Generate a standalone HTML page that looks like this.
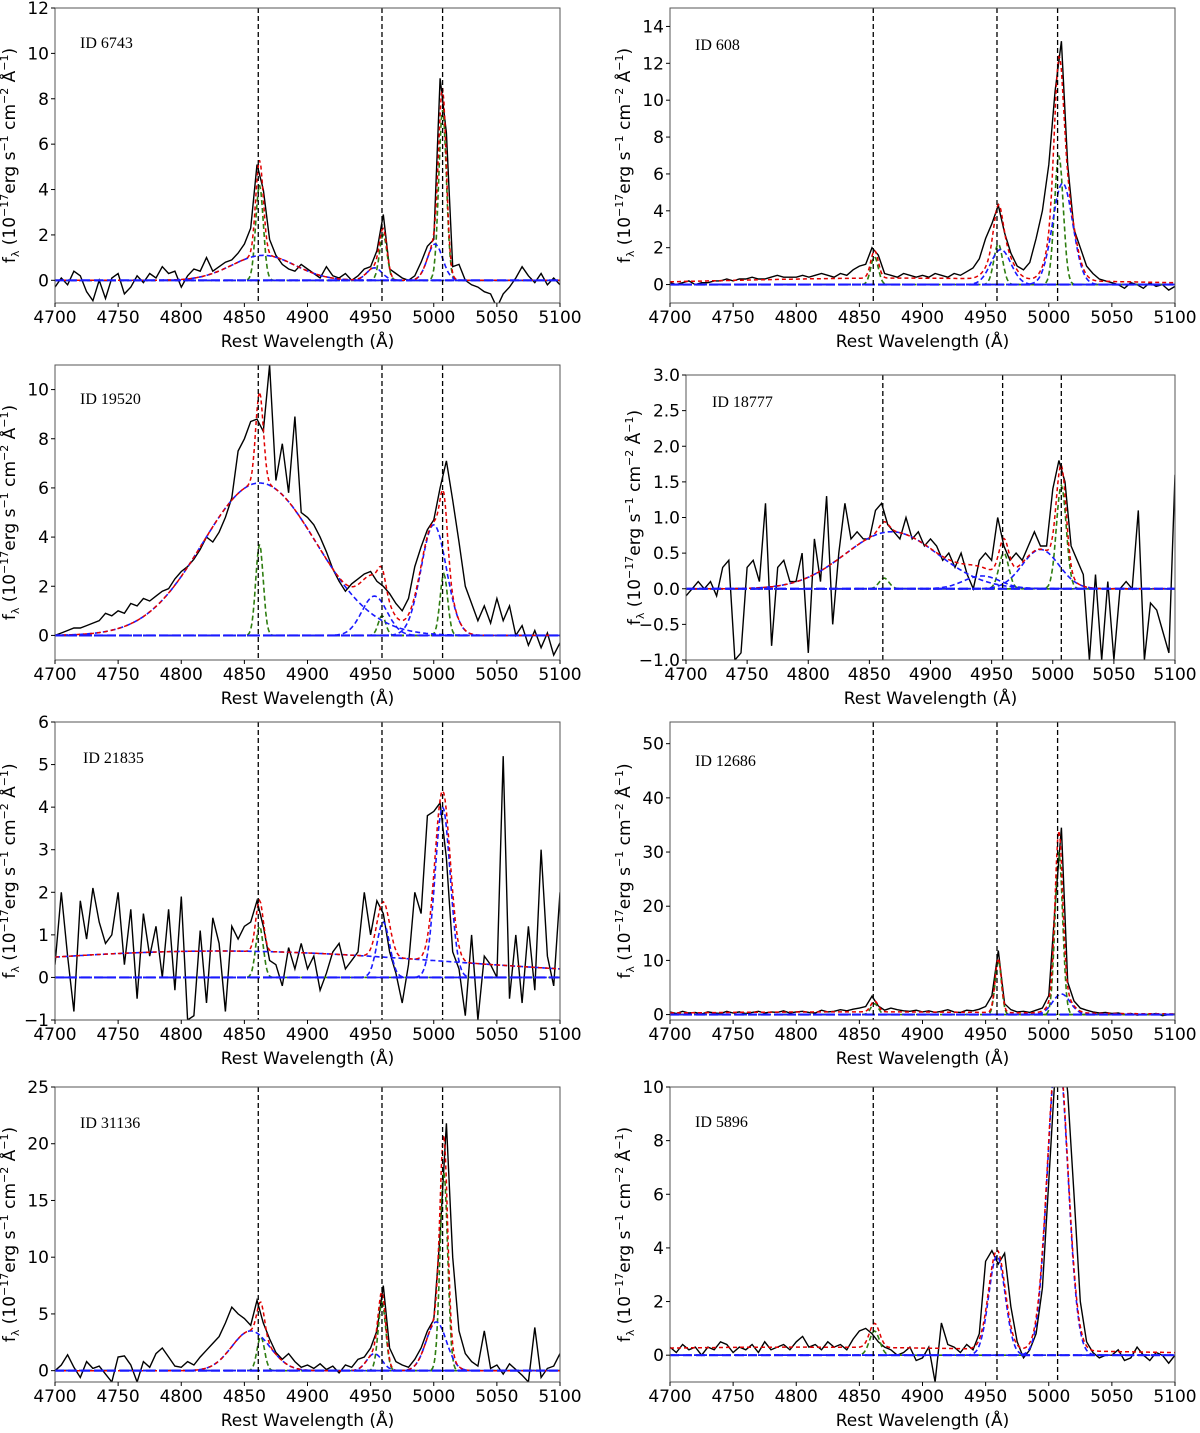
<!DOCTYPE html>
<html><head><meta charset="utf-8"><style>
html,body{margin:0;padding:0;background:#fff;}
svg{display:block;font-family:"DejaVu Sans","Liberation Sans",sans-serif;}
.tk{font-size:17px;fill:#000}
.idl{font-family:"Liberation Serif",serif;font-size:16px;fill:#000}
</style></head><body>
<svg id="fig" width="1200" height="1433" viewBox="0 0 1200 1433" xmlns="http://www.w3.org/2000/svg"></svg>
<script>
const wl0 = 4700, wlStep = 5;
const lineCenters = [4861, 4959, 5007];
const ids = ["ID 6743","ID 608","ID 19520","ID 18777","ID 21835","ID 12686","ID 31136","ID 5896"];
const flux6743 = [-0.3,0.1,-0.2,0.4,0.2,-0.5,-0.9,0.0,-0.8,0.1, 0.3,-0.6,-0.3,0.2,-0.1,0.3,0.1,0.6,0.3,0.4, -0.3,0.2,0.5,0.4,1.0,0.4,0.6,0.8,0.9,1.2, 1.6,2.3,5.1,4.0,1.8,1.1,0.7,0.5,0.4,0.7, 0.5,0.3,0.1,0.6,0.2,0.1,0.3,0.0,0.2,0.5, 0.6,1.3,2.9,0.5,0.3,0.1,0.0,0.2,0.8,1.5, 1.8,8.9,6.5,0.6,0.7,0.0,-0.2,-0.3,-0.5,-0.6, -1.2,-0.6,-0.3,0.1,0.6,0.2,-0.1,0.3,-0.2,0.1,-0.2];
const flux608 = [0.1,0.0,0.1,0.2,0.0,0.1,0.1,0.2,0.2,0.3, 0.2,0.3,0.3,0.4,0.3,0.3,0.4,0.5,0.4,0.4, 0.4,0.5,0.4,0.5,0.6,0.5,0.4,0.6,0.5,0.8, 1.0,1.1,2.0,1.6,0.6,0.5,0.4,0.6,0.5,0.4, 0.5,0.4,0.6,0.5,0.4,0.6,0.5,0.7,0.9,1.4, 2.5,3.3,4.3,2.8,1.7,1.0,0.8,1.2,2.5,4.0, 6.5,10.5,13.2,6.5,3.0,2.0,1.0,0.6,0.3,0.2, 0.1,0.0,-0.2,0.1,0.0,-0.2,0.1,-0.1,0.0,-0.3,-0.1];
const flux19520 = [0.0,0.1,0.2,0.3,0.3,0.4,0.5,0.6,0.9,0.8, 1.0,0.9,1.3,1.2,1.5,1.4,1.6,1.8,1.9,2.3, 2.6,2.8,3.1,3.5,4.0,3.8,4.2,4.8,5.6,7.5, 8.0,8.7,8.8,8.3,11.0,6.3,7.8,5.8,8.9,5.0, 4.8,4.5,4.0,3.4,2.7,2.2,1.8,2.1,2.3,2.5, 2.6,2.2,2.0,1.7,1.3,1.0,1.5,2.8,3.6,4.3, 4.7,6.0,7.1,5.5,3.8,2.0,1.3,0.6,1.2,0.5, 1.5,0.6,1.2,0.0,0.4,-0.4,0.2,-0.5,0.1,-0.8,-0.3];
const flux18777 = [-0.1,0.0,0.1,0.0,0.1,-0.1,0.3,0.4,-1.0,-0.9, 0.3,0.4,0.1,1.2,-0.8,0.3,0.4,0.1,0.1,0.5, -0.9,0.7,0.1,1.3,-0.5,0.5,1.2,0.7,0.8,0.7, 0.7,1.1,1.2,0.9,0.8,0.7,1.0,0.7,0.8,0.6, 0.7,0.6,0.4,0.5,0.3,0.5,0.2,0.0,0.4,0.5, 0.4,1.0,0.6,0.4,0.5,0.4,0.6,0.8,0.6,0.6, 1.4,1.8,1.5,0.6,0.4,0.2,-1.0,0.2,-1.0,0.1, -1.0,0.0,0.1,0.0,1.1,-1.0,-0.2,-0.3,-0.6,-0.9,1.6];
const flux21835 = [0.3,2.0,0.5,-0.8,1.8,0.9,2.1,1.3,0.8,1.0, 2.0,0.3,1.6,-0.5,1.5,0.5,1.2,0.0,1.6,-0.3, 1.9,-1.0,-0.9,1.1,-0.6,1.4,0.8,-0.8,1.2,0.9, 1.2,1.3,1.8,1.2,0.4,0.3,-0.2,0.7,0.2,0.8, 0.2,0.5,-0.3,0.1,0.6,0.8,0.2,0.4,0.6,2.0, 1.0,1.8,1.5,0.6,0.1,-0.6,0.3,2.0,1.5,3.8, 3.9,4.1,2.8,0.6,0.2,-0.9,1.0,-1.0,0.5,0.3, 0.0,5.2,-0.5,1.0,-0.6,1.2,-0.3,3.0,0.5,-0.2,2.0];
const flux12686 = [0.5,0.2,0.6,0.3,0.4,0.1,0.5,0.3,0.2,0.6, 0.3,0.5,0.2,0.4,0.6,0.3,0.5,0.4,0.7,0.3, 0.5,0.6,0.4,0.3,0.8,0.5,0.6,0.9,0.7,1.0, 1.2,1.5,3.4,1.6,0.8,1.2,0.9,0.7,0.6,0.8, 0.5,0.7,0.4,0.6,0.9,0.5,0.4,0.8,0.7,1.0, 1.5,3.5,11.8,2.0,0.9,0.5,0.6,0.4,0.8,1.2, 3.5,20.0,34.5,6.0,2.5,1.2,0.8,0.5,0.3,0.4, 0.2,0.3,0.0,0.2,-0.1,0.1,0.0,0.2,-0.2,0.0,0.1];
const flux31136 = [0.0,0.5,1.4,0.3,-0.6,0.8,0.2,0.4,-0.3,-1.0, 1.2,1.3,0.5,-1.0,0.8,0.3,1.5,2.0,1.2,0.4, 0.3,0.8,0.5,1.2,1.8,2.4,3.0,4.2,5.6,5.0, 4.6,4.0,6.2,4.2,2.8,1.6,1.0,1.5,0.8,0.3, 0.5,0.2,0.6,0.1,0.4,-0.2,0.5,0.3,1.0,1.2, 2.0,3.5,7.5,2.0,0.8,0.5,0.3,1.0,2.0,3.5, 4.5,12.0,21.8,10.0,3.5,1.5,0.8,0.4,3.5,0.2, 0.5,-0.3,0.6,0.1,-0.4,-1.0,3.8,-0.6,0.2,0.4,1.5];
const flux5896 = [0.3,0.1,0.4,0.2,0.3,0.0,0.3,0.2,0.5,0.4, 0.1,0.3,0.2,0.4,0.1,0.5,0.2,0.3,0.4,0.2, 0.5,0.7,0.3,0.4,0.2,0.5,0.3,0.4,0.2,0.6, 0.9,1.0,0.8,0.5,0.3,0.2,0.0,0.1,0.3,-0.2, -0.1,0.3,-1.0,1.2,0.4,0.3,0.1,0.4,0.2,0.8, 3.5,3.9,3.4,3.8,1.8,0.5,-0.1,0.2,0.8,2.5, 6.5,10.5,12.0,9.8,6.0,2.0,0.5,0.1,-0.1,0.0, 0.0,0.2,-0.2,-0.1,0.3,0.0,-0.2,0.1,0.0,-0.3,0.0];
const fluxes = [flux6743,flux608,flux19520,flux18777,flux21835,flux12686,flux31136,flux5896];
// gaussian fit components: [center, amplitude, sigma, kind]  n=narrow(green), b=broad(blue), c=continuum(red only), cb=continuum drawn blue
const fit6743 = [[4862,4.2,3,"n"],[4960,2.0,3,"n"],[5007,7.5,3,"n"],[4865,1.1,25,"b"],[4953,0.55,6,"b"],[5001,1.6,6,"b"]];
const fit608 = [[4862,1.5,3,"n"],[4960,2.2,3.5,"n"],[5008,7.0,3.5,"n"],[4962,1.9,8,"b"],[5011,5.5,8,"b"],[4880,0.35,140,"c"]];
const fit19520 = [[4862,3.7,3,"n"],[4959,0.8,3,"n"],[5008,2.5,3,"n"],[4862,6.2,45,"b"],[4953,1.6,10,"b"],[5000,4.5,10,"b"]];
const fit18777 = [[4862,0.15,4,"n"],[4960,0.5,4,"n"],[5007,1.45,4,"n"],[4868,0.8,38,"b"],[4942,0.18,15,"b"],[4990,0.55,15,"b"]];
const fit21835 = [[4862,1.2,3,"n"],[4960,1.3,5,"b"],[5007,4.0,6,"b"],[4830,0.62,180,"cb"]];
const fit12686 = [[4862,2.0,3,"n"],[4960,10.0,2.5,"n"],[5008,30.0,3,"n"],[5010,3.8,7,"b"],[4850,0.5,150,"c"]];
const fit31136 = [[4863,3.0,3,"n"],[4959,6.0,3,"n"],[5008,17.5,3,"n"],[4855,3.5,15,"b"],[4953,1.5,6,"b"],[5002,4.3,8,"b"]];
const fit5896 = [[4862,0.9,4,"n"],[4959,3.7,6.5,"b"],[5007,11.5,8,"b"],[4800,0.3,200,"c"]];
const fits = [fit6743,fit608,fit19520,fit18777,fit21835,fit12686,fit31136,fit5896];
const xTicks = [4700,4750,4800,4850,4900,4950,5000,5050,5100];
const yTicks0 = [0,2,4,6,8,10,12];
const yTicks1 = [0,2,4,6,8,10,12,14];
const yTicks2 = [0,2,4,6,8,10];
const yTicks3 = [-1.0,-0.5,0.0,0.5,1.0,1.5,2.0,2.5,3.0];
const yTicks4 = [-1,0,1,2,3,4,5,6];
const yTicks5 = [0,10,20,30,40,50];
const yTicks6 = [0,5,10,15,20,25];
const yTicks7 = [0,2,4,6,8,10];
const yTicksAll = [yTicks0,yTicks1,yTicks2,yTicks3,yTicks4,yTicks5,yTicks6,yTicks7];
const yLims = [[-1,12],[-1,15],[-1,11],[-1,3],[-1,6],[-1,54],[-1,25],[-1,10]];
const frames = [[55,560,8,303],[670,1175,8,303],[55,560,365,660],[686,1175,375,660],[55,560,722,1020],[670,1175,722,1020],[55,560,1087,1382],[670,1175,1087,1382]];
const idPos = [[80,48],[695,50],[80,404],[712,407],[83,763],[695,766],[80,1128],[695,1127]];

const NS="http://www.w3.org/2000/svg";
const svg=document.getElementById('fig');
function mk(tag,attrs,parent){const e=document.createElementNS(NS,tag);for(const k in attrs)e.setAttribute(k,attrs[k]);(parent||svg).appendChild(e);return e;}
function gauss(x,c){return c[1]*Math.exp(-(x-c[0])*(x-c[0])/(2*c[2]*c[2]));}

for(let p=0;p<8;p++){
  const [L,R,T,B]=frames[p]; const [y0,y1]=yLims[p];
  const sx=w=>L+(w-4700)/400*(R-L);
  const sy=v=>B-(v-y0)/(y1-y0)*(B-T);
  const g=mk('g',{});
  
  
  const cp=mk('clipPath',{id:'cp'+p},g); mk('rect',{x:L,y:T,width:R-L,height:B-T},cp);
  const plot=mk('g',{'clip-path':'url(#cp'+p+')'},g);
  
  
  const f=fluxes[p]; let d='';
  f.forEach((v,i)=>{d+=(i?'L':'M')+sx(wl0+i*wlStep).toFixed(1)+','+sy(v).toFixed(1);});
  const sp=mk('path',{d:d,fill:'none',stroke:'#000','stroke-width':1.4},plot);
  
  
  const comps=fits[p];
  const cont=comps.filter(c=>c[3]==='cb');
  comps.forEach(c=>{
    if(c[3]==='c')return;
    let dd='';
    for(let w=4700;w<=5100;w+=1){let v=gauss(w,c); if(c[3]==='b')cont.forEach(k=>v+=0*gauss(w,k)); dd+=(w>4700?'L':'M')+sx(w).toFixed(1)+','+sy(v).toFixed(1);}
    const e=mk('path',{d:dd,fill:'none',stroke:c[3]==='n'?'#2e7d10':'#1a1aff','stroke-width':1.6,'stroke-dasharray':'5,3'},plot);
    
    
  });
  let dt='';
  for(let w=4700;w<=5100;w+=1){let v=0;comps.forEach(c=>v+=gauss(w,c)); dt+=(w>4700?'L':'M')+sx(w).toFixed(1)+','+sy(v).toFixed(1);}
  const tot=mk('path',{d:dt,fill:'none',stroke:'#e00000','stroke-width':1.5,'stroke-dasharray':'4,3'},plot);
  
  
  const bl=mk('line',{x1:L,x2:R,y1:sy(0),y2:sy(0),stroke:'#1a1aff','stroke-width':2.2,'stroke-dasharray':'9,4'},plot);
  
  
  lineCenters.forEach(lc=>{
    const vl=mk('line',{x1:sx(lc),x2:sx(lc),y1:T,y2:B,stroke:'#000','stroke-width':1.3,'stroke-dasharray':'5,3'},g);
    
    
  });
  const fr=mk('rect',{x:L,y:T,width:R-L,height:B-T,fill:'none',stroke:'#555','stroke-width':1},g);
  
  
  xTicks.forEach(t=>{
    const x=sx(t);
    mk('line',{x1:x,x2:x,y1:B,y2:B+4,stroke:'#000'},g);
    const tx=mk('text',{x:x,y:B+20,'text-anchor':'middle',class:'tk'},g); tx.textContent=t;
    
    
  });
  yTicksAll[p].forEach(t=>{
    const y=sy(t);
    mk('line',{x1:L-4,x2:L,y1:y,y2:y,stroke:'#000'},g);
    const tx=mk('text',{x:L-6,y:y+6,'text-anchor':'end',class:'tk'},g);
    tx.textContent=(p===3?t.toFixed(1):String(t)).replace('-','\u2212');
    
    
  });
  const xl=mk('text',{x:(L+R)/2,y:B+44,'text-anchor':'middle',class:'tk'},g);
  xl.textContent='Rest Wavelength (\u00c5)';
  
  
  const yc=(T+B)/2, yx=L-(p===3?46:40);
  const yl=mk('text',{x:yx,y:yc,'text-anchor':'middle',class:'tk',transform:'rotate(-90 '+yx+' '+yc+')'},g);
  yl.innerHTML='f<tspan font-size="11" dy="4">\u03bb</tspan><tspan dy="-4"> (10</tspan><tspan font-size="11" dy="-7">\u221217</tspan><tspan dy="7">erg s</tspan><tspan font-size="11" dy="-7">\u22121</tspan><tspan dy="7"> cm</tspan><tspan font-size="11" dy="-7">\u22122</tspan><tspan dy="7"> \u00c5</tspan><tspan font-size="11" dy="-7">\u22121</tspan><tspan dy="7">)</tspan>';
  
  
  const il=mk('text',{x:idPos[p][0],y:idPos[p][1],class:'idl'},g); il.textContent=ids[p];
  
  
}
</script>
</body></html>
